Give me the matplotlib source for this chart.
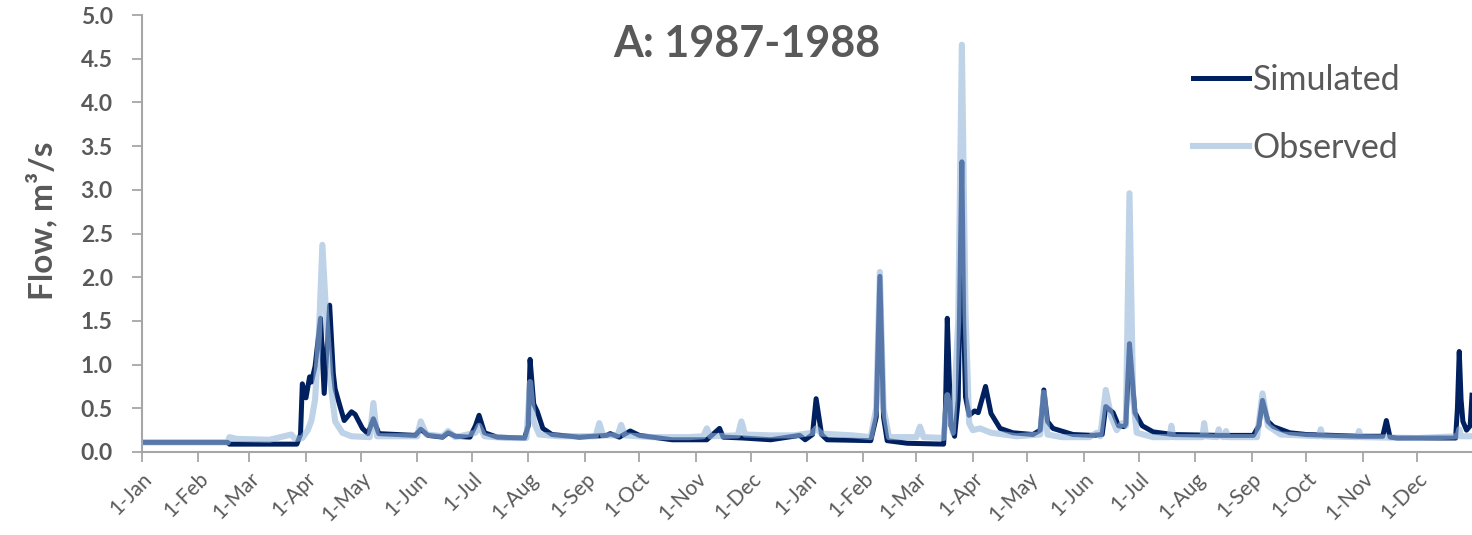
import matplotlib
matplotlib.use("Agg")
import matplotlib.pyplot as plt
import pandas as pd

plt.rcParams['font.family'] = ['Lato', 'DejaVu Sans']

# Simulated daily flow (breakpoints)
sim_dates = [
    "1987-01-01", "1987-02-17", "1987-02-18", "1987-03-27", "1987-03-29", "1987-03-30",
    "1987-04-01", "1987-04-03", "1987-04-04", "1987-04-06", "1987-04-09", "1987-04-11",
    "1987-04-14", "1987-04-16", "1987-04-17", "1987-04-20", "1987-04-22", "1987-04-26",
    "1987-04-28", "1987-05-02", "1987-05-05", "1987-05-08", "1987-05-11", "1987-05-21",
    "1987-05-31", "1987-06-03", "1987-06-07", "1987-06-15", "1987-06-18", "1987-06-22",
    "1987-06-30", "1987-07-03", "1987-07-05", "1987-07-08", "1987-07-15", "1987-07-30",
    "1987-08-01", "1987-08-02", "1987-08-04", "1987-08-06", "1987-08-09", "1987-08-14",
    "1987-08-29", "1987-09-13", "1987-09-15", "1987-09-20", "1987-09-26", "1987-10-01",
    "1987-10-19", "1987-11-07", "1987-11-14", "1987-11-16", "1987-11-27", "1987-12-12",
    "1987-12-28", "1987-12-31", "1988-01-04", "1988-01-06", "1988-01-09", "1988-01-12",
    "1988-02-05", "1988-02-08", "1988-02-10", "1988-02-12", "1988-02-14", "1988-02-25",
    "1988-03-16", "1988-03-17", "1988-03-18", "1988-03-19", "1988-03-20", "1988-03-22",
    "1988-03-24", "1988-03-26", "1988-03-27", "1988-03-28", "1988-03-30", "1988-04-02",
    "1988-04-04", "1988-04-08", "1988-04-11", "1988-04-16", "1988-04-23", "1988-05-04",
    "1988-05-08", "1988-05-10", "1988-05-12", "1988-05-15", "1988-05-26", "1988-06-06",
    "1988-06-11", "1988-06-13", "1988-06-17", "1988-06-20", "1988-06-23", "1988-06-24",
    "1988-06-26", "1988-06-29", "1988-07-03", "1988-07-09", "1988-07-20", "1988-08-15",
    "1988-09-02", "1988-09-05", "1988-09-07", "1988-09-10", "1988-09-13", "1988-09-22",
    "1988-10-01", "1988-10-30", "1988-11-12", "1988-11-14", "1988-11-16", "1988-11-20",
    "1988-12-22", "1988-12-23", "1988-12-24", "1988-12-25", "1988-12-26", "1988-12-28",
    "1988-12-30", "1988-12-31",
]
sim_flow = [
    0.11, 0.11, 0.09, 0.09, 0.20, 0.78,
    0.62, 0.86, 0.80, 0.98, 1.53, 0.67,
    1.68, 0.90, 0.72, 0.50, 0.36, 0.46,
    0.43, 0.27, 0.21, 0.38, 0.21, 0.20,
    0.19, 0.26, 0.19, 0.17, 0.22, 0.18,
    0.17, 0.30, 0.42, 0.22, 0.17, 0.16,
    0.30, 1.06, 0.55, 0.46, 0.27, 0.20,
    0.17, 0.19, 0.21, 0.17, 0.24, 0.19,
    0.14, 0.14, 0.27, 0.17, 0.16, 0.14,
    0.19, 0.14, 0.20, 0.61, 0.20, 0.14,
    0.13, 0.40, 2.01, 0.40, 0.13, 0.10,
    0.09, 0.50, 1.53, 0.90, 0.30, 0.18,
    0.60, 3.32, 1.50, 0.63, 0.42, 0.47,
    0.45, 0.75, 0.44, 0.27, 0.22, 0.20,
    0.25, 0.71, 0.35, 0.27, 0.20, 0.19,
    0.20, 0.52, 0.45, 0.30, 0.29, 0.32,
    1.24, 0.45, 0.30, 0.23, 0.20, 0.19,
    0.19, 0.30, 0.59, 0.35, 0.29, 0.22,
    0.20, 0.18, 0.18, 0.36, 0.17, 0.16,
    0.16, 0.50, 1.15, 0.60, 0.35, 0.25,
    0.30, 0.65,
]

# Observed daily flow
obs_dates = [
    "1987-01-01", "1987-02-17", "1987-02-18", "1987-02-22", "1987-03-12", "1987-03-24",
    "1987-03-26", "1987-03-30", "1987-04-02", "1987-04-04", "1987-04-06", "1987-04-08",
    "1987-04-10", "1987-04-12", "1987-04-15", "1987-04-17", "1987-04-21", "1987-04-26",
    "1987-05-06", "1987-05-08", "1987-05-10", "1987-05-21", "1987-06-01", "1987-06-03",
    "1987-06-06", "1987-06-15", "1987-06-18", "1987-06-22", "1987-07-03", "1987-07-05",
    "1987-07-08", "1987-07-20", "1987-07-31", "1987-08-02", "1987-08-04", "1987-08-07",
    "1987-08-18", "1987-09-07", "1987-09-09", "1987-09-11", "1987-09-19", "1987-09-21",
    "1987-09-23", "1987-10-08", "1987-10-28", "1987-11-05", "1987-11-07", "1987-11-09",
    "1987-11-24", "1987-11-26", "1987-11-28", "1987-12-12", "1987-12-25", "1988-01-04",
    "1988-01-06", "1988-01-09", "1988-01-26", "1988-02-05", "1988-02-08", "1988-02-10",
    "1988-02-12", "1988-02-15", "1988-03-01", "1988-03-03", "1988-03-05", "1988-03-16",
    "1988-03-18", "1988-03-21", "1988-03-24", "1988-03-26", "1988-03-28", "1988-03-30",
    "1988-04-01", "1988-04-05", "1988-04-11", "1988-04-25", "1988-05-08", "1988-05-10",
    "1988-05-12", "1988-05-20", "1988-06-04", "1988-06-08", "1988-06-10", "1988-06-13",
    "1988-06-16", "1988-06-19", "1988-06-22", "1988-06-24", "1988-06-26", "1988-06-28",
    "1988-06-30", "1988-07-09", "1988-07-18", "1988-07-19", "1988-07-20", "1988-08-05",
    "1988-08-06", "1988-08-07", "1988-08-13", "1988-08-14", "1988-08-15", "1988-08-17",
    "1988-08-18", "1988-08-19", "1988-09-04", "1988-09-07", "1988-09-10", "1988-09-17",
    "1988-10-08", "1988-10-09", "1988-10-10", "1988-10-29", "1988-10-30", "1988-10-31",
    "1988-12-01", "1988-12-23", "1988-12-24", "1988-12-25", "1988-12-31",
]
obs_flow = [
    0.11, 0.11, 0.17, 0.15, 0.14, 0.20,
    0.15, 0.16, 0.25, 0.36, 0.60, 1.30,
    2.37, 1.60, 0.71, 0.35, 0.22, 0.18,
    0.17, 0.56, 0.18, 0.18, 0.18, 0.35,
    0.20, 0.18, 0.24, 0.17, 0.22, 0.30,
    0.18, 0.16, 0.16, 0.80, 0.35, 0.20,
    0.18, 0.18, 0.33, 0.19, 0.19, 0.31,
    0.19, 0.17, 0.17, 0.18, 0.27, 0.18,
    0.19, 0.35, 0.20, 0.19, 0.19, 0.22,
    0.27, 0.21, 0.19, 0.17, 0.50, 2.06,
    0.50, 0.17, 0.17, 0.29, 0.17, 0.16,
    0.65, 0.22, 1.50, 4.66, 1.60, 0.33,
    0.25, 0.27, 0.22, 0.18, 0.20, 0.68,
    0.20, 0.17, 0.17, 0.22, 0.18, 0.71,
    0.40, 0.25, 0.33, 0.30, 2.96, 0.60,
    0.22, 0.17, 0.17, 0.30, 0.17, 0.17,
    0.33, 0.18, 0.17, 0.26, 0.18, 0.17,
    0.24, 0.17, 0.17, 0.67, 0.30, 0.20,
    0.18, 0.26, 0.18, 0.17, 0.24, 0.17,
    0.16, 0.18, 0.26, 0.18, 0.18,
]

month_ticks = pd.date_range("1987-01-01", "1988-12-01", freq="MS")
tick_labels = ["1-" + d.strftime("%b") for d in month_ticks]

grey = "#595959"

fig = plt.figure(figsize=(14.72, 5.35), dpi=100)
ax = fig.add_axes([142 / 1472, 1 - 452 / 535, 1 - 142 / 1472, (452 - 15) / 535])

ax.plot(pd.to_datetime(sim_dates), sim_flow, color="#002060", lw=3.6,
        solid_joinstyle="round", label="Simulated", zorder=2)
ax.plot(pd.to_datetime(obs_dates), obs_flow, color="#94B4DA", lw=4.4, alpha=0.6,
        solid_joinstyle="round", label="Observed", zorder=3)

ax.set_xlim(pd.Timestamp("1987-01-01"), pd.Timestamp("1988-12-31"))
ax.set_ylim(0, 5.0)
ax.set_yticks([i * 0.5 for i in range(11)])
ax.set_yticklabels(["%.1f" % (i * 0.5) for i in range(11)], fontsize=16.5,
                   fontweight="bold", color=grey)
ax.set_xticks(month_ticks)
ax.set_xticklabels(tick_labels, rotation=45, ha="right", rotation_mode="anchor",
                   fontsize=15, color=grey)

for s in ["top", "right"]:
    ax.spines[s].set_visible(False)
for s in ["left", "bottom"]:
    ax.spines[s].set_color("#A6A6A6")
    ax.spines[s].set_linewidth(1.5)
ax.tick_params(axis="both", direction="out", color="#A6A6A6", width=1.3, length=7)
ax.tick_params(axis="y", pad=14)
ax.tick_params(axis="x", pad=5)

ax.set_ylabel("Flow, m³/s", fontsize=24, fontweight="bold", color=grey)
ax.yaxis.set_label_coords(-0.064, 0.53)

fig.text(747 / 1472, 1 - 44 / 535, "A: 1987-1988", fontsize=31, fontweight="bold",
         color=grey, ha="center", va="center")

leg = ax.legend(loc="upper left", bbox_to_anchor=(1193 / 1472, 1 - 64 / 535),
                bbox_transform=fig.transFigure, frameon=False, fontsize=24.5,
                handlelength=1.65, handletextpad=0.1, labelspacing=1.05,
                borderpad=0, borderaxespad=0)
for t in leg.get_texts():
    t.set_color(grey)

fig.savefig("out.png", dpi=100)
